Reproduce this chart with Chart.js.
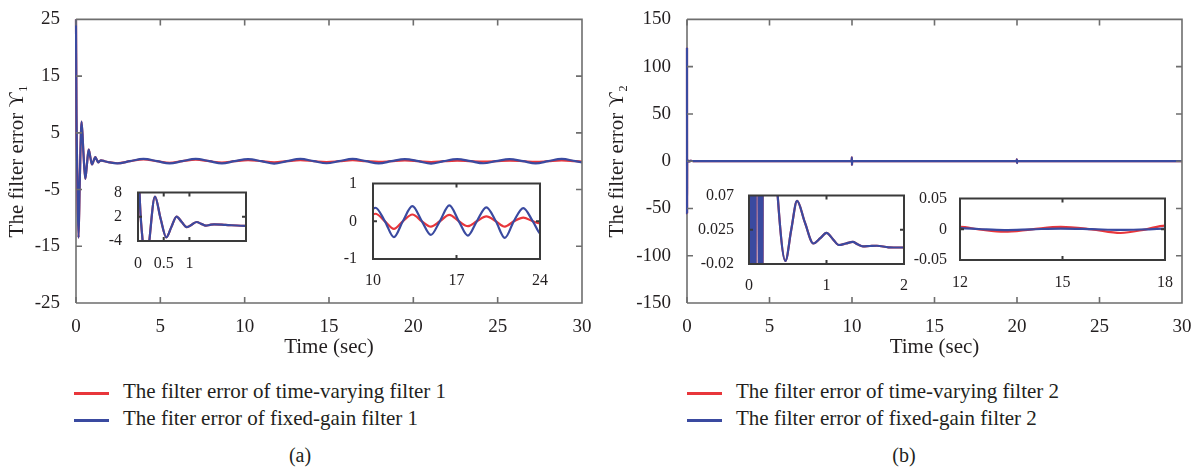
<!DOCTYPE html>
<html>
<head>
<meta charset="utf-8">
<script src="https://cdn.jsdelivr.net/npm/chart.js@4.4.1/dist/chart.umd.min.js"></script>
<style>
  body { margin: 0; background: #fff; width: 1200px; height: 469px; position: relative; overflow: hidden;
         font-family: "Liberation Serif", "DejaVu Serif", serif; color: #231f20; }
  canvas { position: absolute; }
  .leg { position: absolute; font-size: 21px; line-height: 22px; white-space: nowrap; }
  .leg i { display: inline-block; width: 35px; height: 0; border-top: 3px solid; vertical-align: middle; margin-right: 14px; }
  .cap { position: absolute; font-size: 20px; width: 60px; text-align: center; }
</style>
</head>
<body>
<canvas id="mainA" width="600" height="375" style="left:0;top:0"></canvas>
<canvas id="mainB" width="600" height="375" style="left:600px;top:0"></canvas>
<canvas id="insetA1" width="148" height="96" style="left:108px;top:175px"></canvas>
<canvas id="insetA2" width="211" height="123" style="left:343px;top:166px"></canvas>
<canvas id="insetB1" width="231" height="115" style="left:687px;top:179px"></canvas>
<canvas id="insetB2" width="275" height="106" style="left:904px;top:184px"></canvas>
<div id="legends"></div>

<script>
// ---- data ----
const timeA = [0, 0.03, 0.09, 0.15, 0.22, 0.33, 0.44, 0.55, 0.65, 0.75, 0.85, 0.95, 1.05, 1.14, 1.23, 1.32, 1.4, 1.48,
  1.7, 2.0, 2.45, 3.2, 4.0, 4.8, 5.55, 6.3, 7.1, 7.9, 8.65, 9.4, 10.2, 11.0, 11.75, 12.5, 13.3, 14.1, 14.85, 15.6,
  16.4, 17.2, 17.95, 18.7, 19.5, 20.3, 21.05, 21.8, 22.6, 23.4, 24.15, 24.9, 25.7, 26.5, 27.25, 28.0, 28.8, 29.6, 30];
const fixedGainA = [25, 8, -4, -13.5, -4, 7, 1.5, -3.1, -0.5, 2.06, 0.7, -0.57, 0.1, 0.71, 0.25, -0.2, 0, 0.14,
  0, -0.22, -0.38, 0, 0.4, 0, -0.4, 0, 0.4, 0, -0.4, 0, 0.36, 0, -0.42, 0, 0.4, 0, -0.36, 0,
  0.42, 0, -0.38, 0, 0.37, 0, -0.44, 0, 0.35, 0, -0.36, 0, 0.38, 0, -0.4, 0, 0.4, 0, -0.2];
const timeVaryingA = [25, 8, -4, -13.5, -4, 7, 1.5, -3.1, -0.5, 2.06, 0.7, -0.57, 0.1, 0.71, 0.25, -0.2, 0, 0.14,
  0, -0.22, -0.36, 0, 0.32, 0, -0.3, 0, 0.26, 0, -0.24, 0, 0.2, 0, -0.2, 0, 0.18, 0, -0.14, 0,
  0.17, 0, -0.13, 0, 0.13, 0, -0.14, 0, 0.1, 0, -0.06, 0, 0.1, 0, -0.12, 0, 0.12, 0, -0.05];

const timeB = [0, 0.004, 0.01, 0.018, 0.026, 0.034, 0.042, 0.05, 0.058, 0.066, 0.074, 0.082, 0.088, 0.11,
  0.138, 0.146, 0.154, 0.162, 0.17, 0.178, 0.184, 0.25, 0.37, 0.47, 0.545, 0.62, 0.72, 0.83, 0.92, 1.0, 1.08,
  1.16, 1.25, 1.34, 1.4, 1.47, 1.56, 1.65, 1.8, 2.0, 3, 5, 7, 9.98, 9.99, 10.0, 10.01, 11, 12, 12.55, 13.3,
  14.1, 14.95, 15.85, 16.7, 17.45, 18, 19, 19.98, 19.99, 20.0, 20.01, 22, 25, 30];
const fixedGainB = [120, -55, 0.2, -0.2, 0.2, -0.2, 0.2, -0.2, 0.2, -0.2, 0.2, -0.2, 0.3, 0.3,
  -0.2, 0.2, -0.2, 0.2, -0.2, 0.2, 0.3, 0.3, 0.07, -0.016, 0.025, 0.063, 0.035, 0.007, 0.014, 0.021, 0.013,
  0.005, 0.007, 0.009, 0.006, 0.0033, 0.0037, 0.004, 0.002, 0.0017, 0.001, 0, 0.001, 0, 4, -4, 0, 0.001, 0.002, 0.0005, -0.0012,
  0, 0.0012, 0.0002, -0.001, 0, 0.001, 0, 0, 2, -2, 0, 0, 0, 0];
const timeVaryingB = [120, -55, 0.2, -0.2, 0.2, -0.2, 0.2, -0.2, 0.2, -0.2, 0.2, -0.2, 0.3, 0.3,
  -0.2, 0.2, -0.2, 0.2, -0.2, 0.2, 0.3, 0.3, 0.07, -0.016, 0.025, 0.063, 0.035, 0.007, 0.014, 0.021, 0.013,
  0.005, 0.007, 0.009, 0.006, 0.0033, 0.0037, 0.004, 0.002, 0.0017, 0.001, 0, 0.001, 0, 4, -4, 0, 0.001, 0.004, 0, -0.004,
  0, 0.004, 0, -0.006, 0, 0.006, 0.002, 0, 2, -2, 0, 0, 0, 0];

const xTicksMain = [0, 5, 10, 15, 20, 25, 30];
const yTicksA = [-25, -15, -5, 5, 15, 25];
const yTicksB = [-150, -100, -50, 0, 50, 100, 150];
const xTicksA1 = [0, 0.5, 1], yTicksA1 = [-4, 2, 8];
const xTicksA2 = [10, 17, 24], yTicksA2 = [-1, 0, 1];
const xTicksB1 = [0, 1, 2], yTicksB1 = [-0.02, 0.025, 0.07];
const xTicksB2 = [12, 15, 18], yTicksB2 = [-0.05, 0, 0.05];

const legendA = ["The filter error of time-varying filter 1", "The fiter error of fixed-gain filter 1"];
const legendB = ["The filter error of time-varying filter 2", "The filter error of fixed-gain filter 2"];

const RED = "#e8363b";
const BLUE = "#3a4aa0";
const TEXT = "#231f20";
const FONT = "'Liberation Serif', 'DejaVu Serif', serif";

// box + inward ticks, MATLAB style
const frameTicks = {
  id: "frameTicks",
  beforeDatasetsDraw(chart, args, opts) {
    if (!opts.fill) return;
    const a = chart.chartArea;
    chart.ctx.save();
    chart.ctx.fillStyle = "#fff";
    chart.ctx.fillRect(a.left, a.top, a.right - a.left, a.bottom - a.top);
    chart.ctx.restore();
  },
  afterDraw(chart, args, opts) {
    const { ctx, chartArea: a, scales } = chart;
    ctx.save();
    ctx.strokeStyle = opts.color;
    ctx.lineWidth = opts.width;
    ctx.beginPath();
    if (opts.skipLeft) {
      // left edge is covered by the data at t = 0, draw the other three sides
      ctx.moveTo(a.left, a.top); ctx.lineTo(a.right, a.top);
      ctx.lineTo(a.right, a.bottom); ctx.lineTo(a.left, a.bottom);
    } else {
      ctx.rect(a.left, a.top, a.right - a.left, a.bottom - a.top);
    }
    scales.x.ticks.forEach((t) => {
      const px = scales.x.getPixelForValue(t.value);
      ctx.moveTo(px, a.bottom); ctx.lineTo(px, a.bottom - opts.len);
      ctx.moveTo(px, a.top); ctx.lineTo(px, a.top + opts.len);
    });
    scales.y.ticks.forEach((t) => {
      const py = scales.y.getPixelForValue(t.value);
      ctx.moveTo(a.left, py); ctx.lineTo(a.left + opts.len, py);
      ctx.moveTo(a.right, py); ctx.lineTo(a.right - opts.len, py);
    });
    ctx.stroke();
    ctx.restore();
  },
  beforeDatasetsDrawLeft: null,
};

// left axis line for the main plots, drawn under the curves
const leftAxis = {
  id: "leftAxis",
  beforeDatasetsDraw(chart, args, opts) {
    if (!opts.on) return;
    const { ctx, chartArea: a } = chart;
    ctx.save();
    ctx.strokeStyle = opts.color;
    ctx.lineWidth = opts.width;
    ctx.beginPath();
    ctx.moveTo(a.left, a.top); ctx.lineTo(a.left, a.bottom);
    ctx.stroke();
    ctx.restore();
  },
};

function pts(xs, ys) {
  return xs.map((x, i) => ({ x: x, y: ys[i] }));
}

function makeChart(id, s) {
  const tickFont = { family: FONT, size: s.fontSize };
  const clip = s.main ? { left: 2, top: 2, right: 0, bottom: 0 } : 0;
  return new Chart(document.getElementById(id), {
    type: "line",
    data: {
      datasets: [
        { data: pts(s.x, s.blue), borderColor: BLUE, borderWidth: s.lw, pointRadius: 0,
          cubicInterpolationMode: "monotone", clip: clip },
        { data: pts(s.x, s.red), borderColor: RED, borderWidth: s.lw, pointRadius: 0,
          cubicInterpolationMode: "monotone", clip: clip },
      ],
    },
    options: {
      responsive: false,
      animation: false,
      events: [],
      layout: { padding: { top: s.padTop, right: s.padRight, left: 0, bottom: 0 } },
      scales: {
        x: {
          type: "linear", min: s.xMin, max: s.xMax,
          grid: { display: false }, border: { display: false },
          afterBuildTicks: (sc) => { sc.ticks = s.xTicks.map((v) => ({ value: v })); },
          afterFit: (sc) => { sc.height = s.xH; },
          ticks: { font: tickFont, color: TEXT, padding: s.xPad, maxRotation: 0, autoSkip: false,
                   callback: (v) => String(v) },
          title: s.xTitle
            ? { display: true, text: s.xTitle, font: { family: FONT, size: 21 }, color: TEXT,
                padding: { top: 0, bottom: 15 } }
            : { display: false },
        },
        y: {
          type: "linear", min: s.yMin, max: s.yMax,
          grid: { display: false }, border: { display: false },
          afterBuildTicks: (sc) => { sc.ticks = s.yTicks.map((v) => ({ value: v })); },
          afterFit: (sc) => { sc.width = s.yW; },
          ticks: { font: tickFont, color: TEXT, padding: s.yPad, autoSkip: false,
                   callback: (v) => String(v) },
          title: s.yTitle
            ? { display: true, text: s.yTitle, font: { family: FONT, size: 21 }, color: TEXT,
                padding: { top: 5, bottom: 0 } }
            : { display: false },
        },
      },
      plugins: {
        legend: { display: false },
        tooltip: { enabled: false },
        frameTicks: s.frame,
        leftAxis: { on: !!s.main, color: s.frame.color, width: s.frame.width },
      },
    },
    plugins: [leftAxis, frameTicks],
  });
}

const mainFrame = { color: "#6e6e6e", width: 1.6, len: 6, fill: false, skipLeft: true };
const insetFrame = { color: "#3a3a3a", width: 2, len: 4, fill: true, skipLeft: false };

// (a) main
makeChart("mainA", {
  main: true, x: timeA, blue: fixedGainA, red: timeVaryingA, lw: 2.2,
  xMin: 0, xMax: 30, yMin: -25, yMax: 25, xTicks: xTicksMain, yTicks: yTicksA,
  fontSize: 19, xPad: 5, yPad: 8, xH: 72, yW: 76, padTop: 18, padRight: 18,
  xTitle: "Time (sec)", yTitle: "The filter error ϒ₁", frame: mainFrame,
});
// (b) main
makeChart("mainB", {
  main: true, x: timeB, blue: fixedGainB, red: timeVaryingB, lw: 2.2,
  xMin: 0, xMax: 30, yMin: -150, yMax: 150, xTicks: xTicksMain, yTicks: yTicksB,
  fontSize: 19, xPad: 5, yPad: 8, xH: 72, yW: 87, padTop: 18, padRight: 18,
  xTitle: "Time (sec)", yTitle: "The filter error ϒ₂", frame: mainFrame,
});
// insets
makeChart("insetA1", {
  x: timeA, blue: fixedGainA, red: timeVaryingA, lw: 2.2,
  xMin: 0, xMax: 2.1, yMin: -4, yMax: 8, xTicks: xTicksA1, yTicks: yTicksA1,
  fontSize: 16, xPad: 5, yPad: 8, xH: 30, yW: 30, padTop: 10, padRight: 10, frame: insetFrame,
});
makeChart("insetA2", {
  x: timeA, blue: fixedGainA, red: timeVaryingA, lw: 2.2,
  xMin: 10, xMax: 24, yMin: -1, yMax: 1, xTicks: xTicksA2, yTicks: yTicksA2,
  fontSize: 16, xPad: 4, yPad: 8, xH: 30, yW: 30, padTop: 10, padRight: 14, frame: insetFrame,
});
makeChart("insetB1", {
  x: timeB, blue: fixedGainB, red: timeVaryingB, lw: 2.2,
  xMin: 0, xMax: 2, yMin: -0.02, yMax: 0.07, xTicks: xTicksB1, yTicks: yTicksB1,
  fontSize: 16, xPad: 4, yPad: 7, xH: 30, yW: 62, padTop: 10, padRight: 14, frame: insetFrame,
});
makeChart("insetB2", {
  x: timeB, blue: fixedGainB, red: timeVaryingB, lw: 2.2,
  xMin: 12, xMax: 18, yMin: -0.05, yMax: 0.05, xTicks: xTicksB2, yTicks: yTicksB2,
  fontSize: 16, xPad: 5, yPad: 5, xH: 30, yW: 56, padTop: 10, padRight: 14, frame: insetFrame,
});

// legends and captions
const holder = document.getElementById("legends");
function addLegend(labels, left) {
  const colors = [RED, BLUE];
  const tops = [380, 407];
  labels.forEach((txt, i) => {
    const d = document.createElement("div");
    d.className = "leg";
    d.style.left = left + "px";
    d.style.top = tops[i] + "px";
    d.innerHTML = '<i style="border-color:' + colors[i] + '"></i>';
    d.appendChild(document.createTextNode(txt));
    holder.appendChild(d);
  });
}
addLegend(legendA, 74);
addLegend(legendB, 687);

[["(a)", 270], ["(b)", 874]].forEach(([txt, left]) => {
  const c = document.createElement("div");
  c.className = "cap";
  c.style.left = left + "px";
  c.style.top = "444px";
  c.textContent = txt;
  holder.appendChild(c);
});
</script>
</body>
</html>
